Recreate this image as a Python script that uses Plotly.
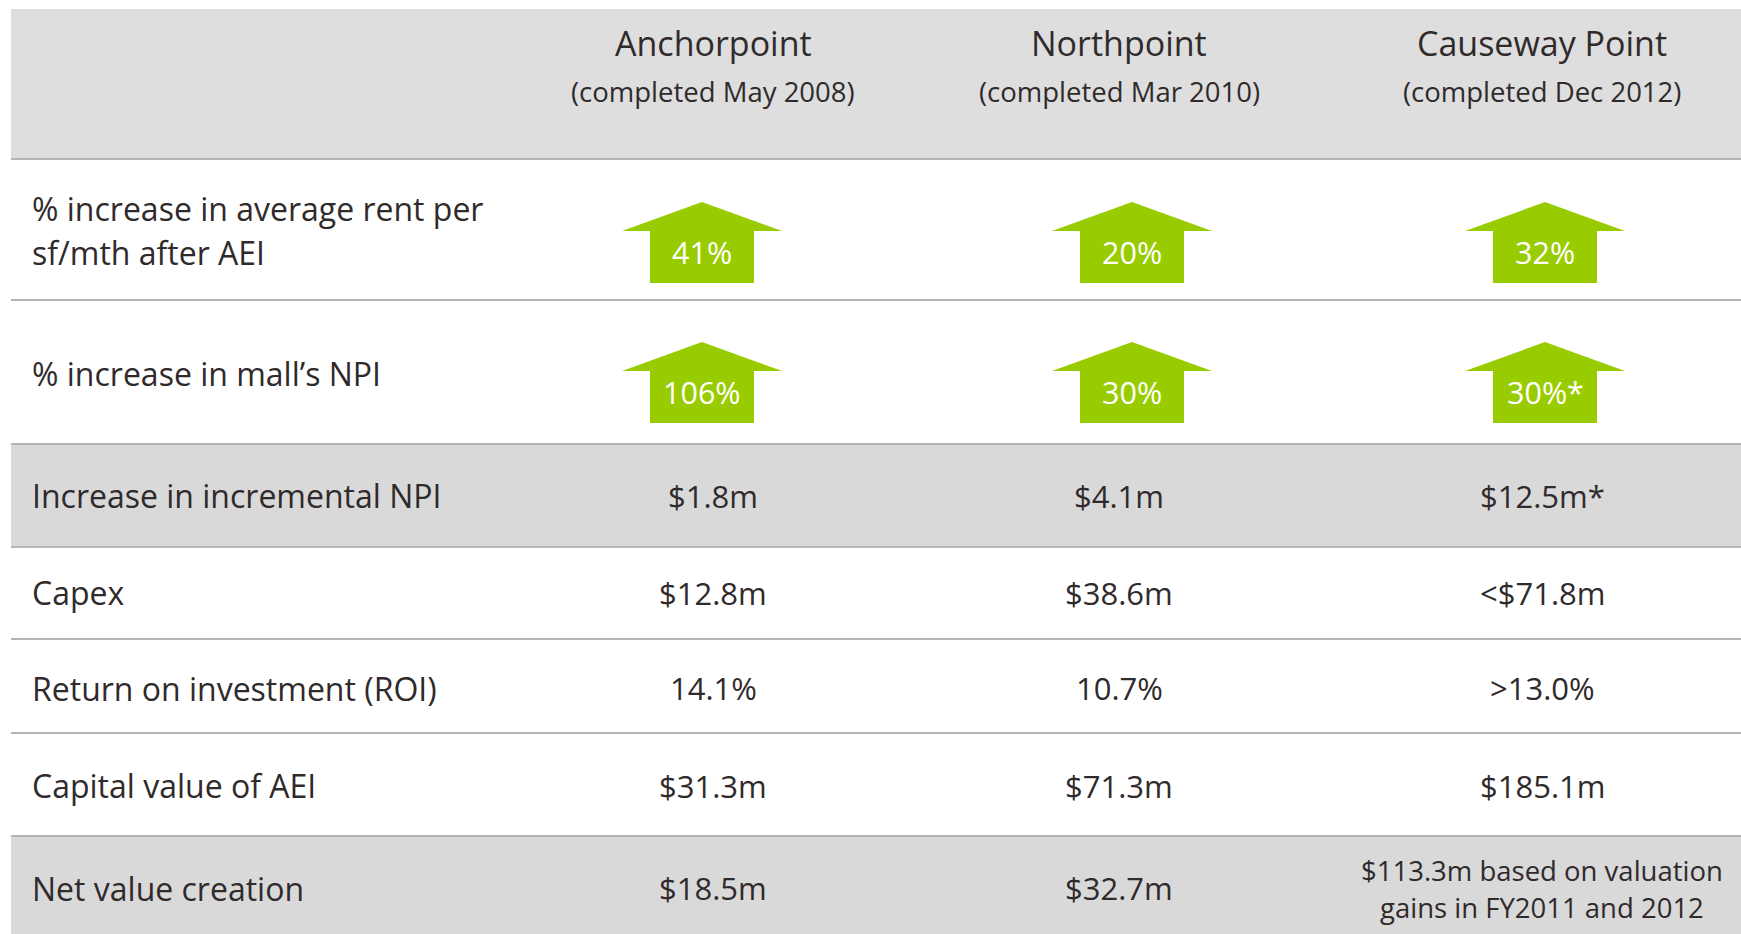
import plotly.graph_objects as go

# ---------------- data ----------------
malls = ["Anchorpoint", "Northpoint", "Causeway Point"]
completed = ["(completed May 2008)", "(completed Mar 2010)", "(completed Dec 2012)"]

row_labels = [
    "% increase in average rent per<br>sf/mth after AEI",
    "% increase in mall\u2019s NPI",
    "Increase in incremental NPI",
    "Capex",
    "Return on investment (ROI)",
    "Capital value of AEI",
    "Net value creation",
]

rent_increase = ["41%", "20%", "32%"]
npi_increase = ["106%", "30%", "30%*"]
incremental_npi = ["$1.8m", "$4.1m", "$12.5m*"]
capex = ["$12.8m", "$38.6m", "<$71.8m"]
roi = ["14.1%", "10.7%", ">13.0%"]
capital_value = ["$31.3m", "$71.3m", "$185.1m"]
net_value = ["$18.5m", "$32.7m", "$113.3m based on valuation<br>gains in FY2011 and 2012"]

# ---------------- layout constants ----------------
W, H = 1741, 934
FONT = "Open Sans"
TXT = "#302a2b"
GREEN = "#99cc00"
LINE = "#b5b5b5"
YADJ = -1.5

left, right = 11, W
bounds = [9, 159, 300, 444, 547, 639, 733, 836, 934]
fills = ["#dedede", "#ffffff", "#ffffff", "#d9d9d9", "#ffffff", "#ffffff", "#ffffff", "#d9d9d9"]
label_y = [None, [209.5, 253.5], 375, 497, 594, 689.5, 787, 889.5]
col_x = [713, 1119, 1542]
arrow_x = [702, 1132, 1545]
arrow_top = [202, 342]  # rows 1 and 2
HEAD_HW, SHAFT_HW, HEAD_H, ARROW_H = 80, 52, 29, 81

S_TITLE, S_SUB, S_LABEL, S_VAL, S_SMALL, S_ARROW = 34, 27.5, 32, 31, 27.5, 30.5

fig = go.Figure()
shapes = []
annotations = []

# row backgrounds
for i, f in enumerate(fills):
    shapes.append(dict(type="rect", xref="x", yref="y", x0=left, x1=right,
                       y0=bounds[i], y1=bounds[i + 1], fillcolor=f, line_width=0, layer="below"))
# separators
for b in bounds[1:-1]:
    shapes.append(dict(type="line", xref="x", yref="y", x0=left, x1=right, y0=b, y1=b,
                       line=dict(color=LINE, width=2), layer="below"))


def txt(x, y, s, size, color=TXT, xanchor="center"):
    annotations.append(dict(x=x, y=y + YADJ, xref="x", yref="y", text=s, showarrow=False,
                            xanchor=xanchor, yanchor="middle",
                            font=dict(family=FONT, size=size, color=color)))


# header
for x, m, c in zip(col_x, malls, completed):
    txt(x, 44, m, S_TITLE)
    txt(x, 93, c, S_SUB)

# row labels
for r, lab in enumerate(row_labels, start=1):
    ys = label_y[r]
    lines = lab.split("<br>")
    if not isinstance(ys, list):
        ys = [ys]
    for ln, y in zip(lines, ys):
        txt(30, y, ln, S_LABEL, xanchor="left")

# arrows
for k, vals in enumerate([rent_increase, npi_increase]):
    top = arrow_top[k]
    for cx, v in zip(arrow_x, vals):
        xs = [cx, cx + HEAD_HW, cx + SHAFT_HW, cx + SHAFT_HW, cx - SHAFT_HW, cx - SHAFT_HW, cx - HEAD_HW, cx]
        ys = [top, top + HEAD_H, top + HEAD_H, top + ARROW_H, top + ARROW_H, top + HEAD_H, top + HEAD_H, top]
        fig.add_trace(go.Scatter(x=xs, y=ys, mode="lines", fill="toself", fillcolor=GREEN,
                                 line=dict(width=0, color=GREEN), hoverinfo="skip", showlegend=False))
        txt(cx, top + HEAD_H + 22, v, S_ARROW, color="#ffffff")

# value rows
value_rows = [incremental_npi, capex, roi, capital_value, net_value]
for r, vals in zip(range(3, 8), value_rows):
    for x, v in zip(col_x, vals):
        if "<br>" in v:
            l1, l2 = v.split("<br>")
            txt(x, label_y[r] - 18, l1, S_SMALL)
            txt(x, label_y[r] + 19.5, l2, S_SMALL)
        else:
            txt(x, label_y[r], v, S_VAL)

fig.update_layout(
    width=W, height=H, margin=dict(l=0, r=0, t=0, b=0),
    paper_bgcolor="#ffffff", plot_bgcolor="#ffffff",
    xaxis=dict(range=[0, W], visible=False, fixedrange=True),
    yaxis=dict(range=[H, 0], visible=False, fixedrange=True),
    shapes=shapes, annotations=annotations, showlegend=False,
)

fig.write_html("out.html", config={"displayModeBar": False},
               post_script="document.body.style.margin='0';document.body.style.overflow='hidden';")
